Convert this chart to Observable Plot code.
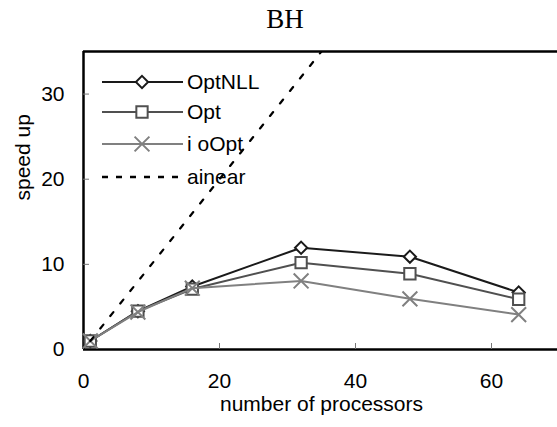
<!DOCTYPE html>
<html><head><meta charset="utf-8">
<script src="https://cdn.jsdelivr.net/npm/d3@7"></script>
<script src="https://cdn.jsdelivr.net/npm/@observablehq/plot@0.6"></script>
<style>
body{margin:0;background:#fff}
#wrap{position:relative;width:557px;height:427px;overflow:hidden}
#wrap svg{position:absolute;left:0;top:0}
</style>
</head><body><div id="wrap"></div>
<script>
const chartTitle = "BH";
const xLabel = "number of processors";
const yLabel = "speed up";
const processors = [1, 8, 16, 32, 48, 64];
const optNLL = [1.0, 4.5, 7.4, 11.95, 10.9, 6.7];
const opt = [1.0, 4.5, 7.1, 10.2, 8.9, 5.9];
const noOpt = [1.0, 4.4, 7.2, 8.05, 5.95, 4.1];
const linear = [1, 8, 16, 32, 48, 64];
const seriesNames = ["OptNLL", "Opt", "i oOpt", "ainear"];
const xTicks = [0, 20, 40, 60];
const yTicks = [0, 10, 20, 30];

const font = "'Liberation Sans', Arial, sans-serif";
const styles = [
  {stroke: "#1a1a1a", symbol: "diamond2", r: 5.5},
  {stroke: "#505050", symbol: "square2", r: 7.2},
  {stroke: "#808080", symbol: "times", r: 6.8},
  {stroke: "#000", dash: "5,11", legendDash: "6,8"}
];
const seriesValues = [optNLL, opt, noOpt];
const toRows = vals => processors.map((p, i) => ({x: p, y: vals[i]}));

const marks = [
  Plot.ruleX([0], {stroke: "#000", strokeWidth: 2.5}),
  Plot.ruleY([0], {stroke: "#000", strokeWidth: 2.5}),
  Plot.ruleY([35], {stroke: "#000", strokeWidth: 2.5}),
  Plot.axisX({ticks: xTicks.filter(d => d > 0), tickSize: 6, dy: -6, tickFormat: () => "", stroke: "#777", label: null}),
  Plot.axisY({ticks: yTicks.filter(d => d > 0), tickSize: 6, dx: 6, tickFormat: () => "", stroke: "#777", label: null}),
  Plot.axisX({ticks: xTicks, tickSize: 0, tickPadding: 24, fontSize: 21, label: null}),
  Plot.axisY({ticks: yTicks, tickSize: 0, tickPadding: 19, fontSize: 21, label: null}),
  Plot.text([xLabel], {frameAnchor: "bottom", dy: 61, fontSize: 21, fill: "#000"}),
  Plot.text([yLabel], {frameAnchor: "left", dx: -60, rotate: -90, fontSize: 21, fill: "#000"})
];
seriesValues.forEach((vals, i) => {
  const s = styles[i];
  marks.push(Plot.line(toRows(vals), {x: "x", y: "y", stroke: s.stroke, strokeWidth: 2}));
  marks.push(Plot.dot(toRows(vals), {x: "x", y: "y", symbol: s.symbol, r: s.r, stroke: s.stroke, fill: "white", strokeWidth: 2}));
});
marks.push(Plot.line(toRows(linear), {x: "x", y: "y", stroke: "#000", strokeWidth: 2.2, strokeDasharray: styles[3].dash, clip: true}));

const chart = Plot.plot({
  width: 557, height: 427,
  marginLeft: 83, marginRight: -2, marginTop: 51, marginBottom: 78,
  style: {fontFamily: font, background: "white", color: "#000"},
  x: {domain: [0, 70]},
  y: {domain: [0, 35]},
  marks
});
const wrap = document.getElementById("wrap");
wrap.appendChild(chart);

// overlay: title and legend
const ov = d3.select(wrap).append("svg").attr("width", 557).attr("height", 427)
  .style("pointer-events", "none");
ov.append("text").attr("x", 285).attr("y", 28).attr("text-anchor", "middle")
  .attr("font-family", "'Liberation Serif', 'Times New Roman', serif").attr("font-size", 27)
  .text(chartTitle);
const rowY = [82, 112, 144, 177];
const symMap = {diamond2: d3.symbolDiamond2, square2: d3.symbolSquare2, times: d3.symbolTimes};
seriesNames.forEach((name, i) => {
  const s = styles[i];
  const g = ov.append("g").attr("transform", `translate(0,${rowY[i]})`);
  g.append("line").attr("x1", 102).attr("x2", 183).attr("y1", 0).attr("y2", 0)
    .attr("stroke", s.stroke).attr("stroke-width", s.dash ? 2.5 : 2)
    .attr("stroke-dasharray", s.legendDash || null);
  if (s.symbol) {
    g.append("path").attr("transform", "translate(142,0)")
      .attr("d", d3.symbol(symMap[s.symbol], Math.PI * s.r * s.r)())
      .attr("fill", "white").attr("stroke", s.stroke).attr("stroke-width", 2);
  }
  g.append("text").attr("x", 187).attr("y", 0).attr("dy", "0.35em")
    .attr("font-family", font).attr("font-size", 21).text(name);
});
</script>
</body></html>
